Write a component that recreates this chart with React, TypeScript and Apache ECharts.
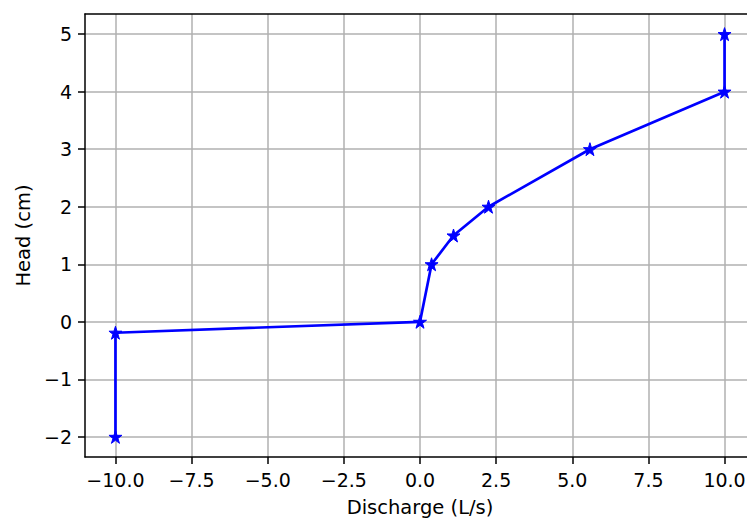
import React, { useEffect, useRef } from "react";
import * as echarts from "echarts";

const discharge = [-10, -10, 0, 0.38, 1.1, 2.25, 5.58, 10, 10];
const head = [-2, -0.19, 0, 1, 1.5, 2, 3, 4, 5];
const xTicks = [-10, -7.5, -5, -2.5, 0, 2.5, 5, 7.5, 10];
const yTicks = [-2, -1, 0, 1, 2, 3, 4, 5];

const STAR =
  "path://M50,0 L61.2,34.5 L97.6,34.5 L68.2,55.9 L79.4,90.5 L50,69.1 L20.6,90.5 L31.8,55.9 L2.4,34.5 L38.8,34.5 Z";

const FONT = "DejaVu Sans";

const fmt = (v: number, d: number) =>
  (v < 0 ? "\u2212" : "") + Math.abs(v).toFixed(d);

export default function App() {
  const ref = useRef<HTMLDivElement>(null);
  useEffect(() => {
    if (!ref.current) return;
    const chart = echarts.init(ref.current, undefined, { renderer: "svg" });
    chart.setOption({
      animation: false,
      backgroundColor: "#ffffff",
      grid: {
        left: 85,
        top: 14,
        bottom: 62,
        right: 0,
        containLabel: false,
        outerBoundsMode: "none",
      },
      xAxis: [
        {
          type: "value",
          min: -11,
          max: 11,
          name: "Discharge (L/s)",
          nameLocation: "middle",
          nameGap: 40,
          nameTextStyle: { fontFamily: FONT, fontSize: 19.5, color: "#000" },
          axisLine: { show: true, onZero: false, lineStyle: { color: "#000", width: 1.5 } },
          axisTick: {
            show: true,
            length: 7,
            customValues: xTicks,
            lineStyle: { color: "#000", width: 1.5 },
          },
          axisLabel: {
            customValues: xTicks,
            margin: 13,
            fontFamily: FONT,
            fontSize: 19,
            color: "#000",
            formatter: (v: number) => fmt(v, 1),
          },
          splitLine: { show: true, lineStyle: { color: "#b0b0b0", width: 1.5 } },
        },
        {
          type: "value",
          position: "top",
          min: -11,
          max: 11,
          axisLine: { show: true, onZero: false, lineStyle: { color: "#000", width: 1.5 } },
          axisTick: { show: false },
          axisLabel: { show: false },
          splitLine: { show: false },
        },
      ],
      yAxis: [
        {
          type: "value",
          min: -2.35,
          max: 5.35,
          name: "Head (cm)",
          nameLocation: "middle",
          nameGap: 52,
          nameTextStyle: { fontFamily: FONT, fontSize: 19.5, color: "#000" },
          axisLine: { show: true, onZero: false, lineStyle: { color: "#000", width: 1.5 } },
          axisTick: {
            show: true,
            length: 7,
            customValues: yTicks,
            lineStyle: { color: "#000", width: 1.5 },
          },
          axisLabel: {
            customValues: yTicks,
            margin: 13,
            fontFamily: FONT,
            fontSize: 19,
            color: "#000",
            formatter: (v: number) => fmt(v, 0),
          },
          splitLine: { show: true, lineStyle: { color: "#b0b0b0", width: 1.5 } },
        },
        {
          type: "value",
          position: "right",
          min: -2.35,
          max: 5.35,
          axisLine: { show: true, onZero: false, lineStyle: { color: "#000", width: 1.5 } },
          axisTick: { show: false },
          axisLabel: { show: false },
          splitLine: { show: false },
        },
      ],
      series: [
        {
          type: "line",
          xAxisIndex: 0,
          yAxisIndex: 0,
          data: discharge.map((x, i) => [x, head[i]]),
          symbol: STAR,
          symbolSize: 13,
          showAllSymbol: true,
          itemStyle: { color: "#0000ff", borderColor: "#0000ff", borderWidth: 1 },
          lineStyle: { color: "#0000ff", width: 2.7 },
          clip: false,
        },
      ],
    });
    return () => chart.dispose();
  }, []);
  return (
    <div
      style={{
        position: "fixed",
        left: 0,
        top: 0,
        width: 747,
        height: 519,
        overflow: "hidden",
        background: "#fff",
      }}
    >
      <div ref={ref} style={{ width: 755, height: 519 }} />
    </div>
  );
}
